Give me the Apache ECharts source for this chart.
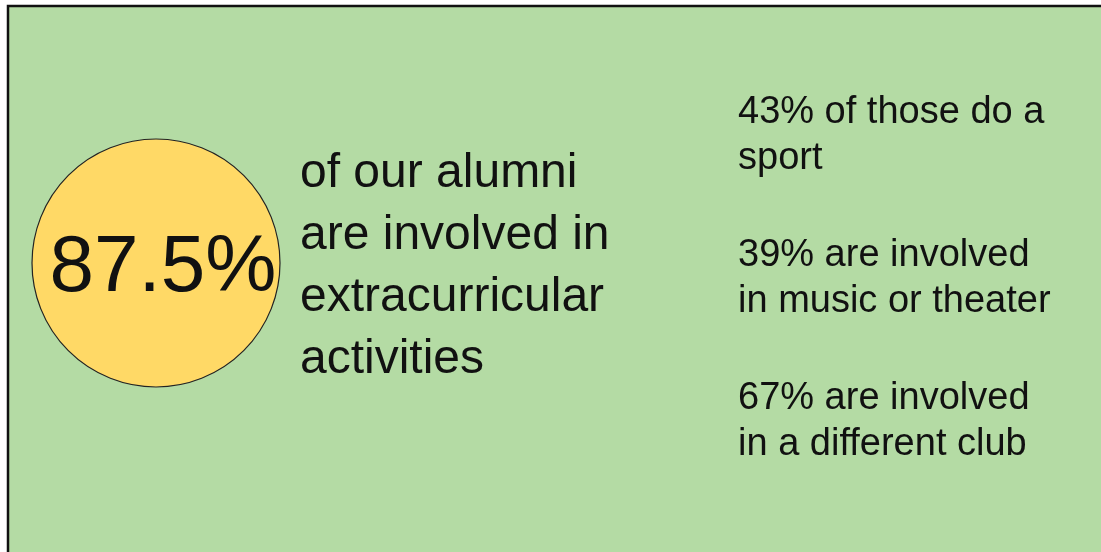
<!DOCTYPE html>
<html>
<head>
<meta charset="utf-8">
<script src="https://cdn.jsdelivr.net/npm/echarts@6/dist/echarts.min.js"></script>
<style>
  html, body { margin: 0; padding: 0; background: #fff; }
  #chart { width: 1101px; height: 552px; }
</style>
</head>
<body>
<div id="chart"></div>
<script>
// headline figure
const mainValue = [87.5];
const mainLabel = ["87.5%"];
// text next to the circle
const mainLines = ["of our alumni", "are involved in", "extracurricular", "activities"];
// the three breakdown notes on the right
const noteLines = [
  ["43% of those do a", "sport"],
  ["39% are involved", "in music or theater"],
  ["67% are involved", "in a different club"]
];

const FONT = "Liberation Sans, Arial, sans-serif";
const INK = "#111";

let chartDom = document.getElementById("chart");
let chart = echarts.init(chartDom);

// text -> graphic elements (baseline based, "middle" align shifted by ~0.31em)
function textEl(str, x, baseline, size, align) {
  return {
    type: "text",
    silent: true,
    z: 10,
    style: {
      text: str,
      x: x,
      y: baseline - size * 0.31,
      font: size + "px " + FONT,
      fill: INK,
      align: align || "left",
      verticalAlign: "middle"
    }
  };
}

let graphics = [
  {
    type: "rect",
    silent: true,
    z: -10,
    shape: { x: 8, y: 6, width: 1110, height: 570 },
    style: { fill: "#b4dba4", stroke: "#111", lineWidth: 2.5 }
  }
];

// big number inside the circle
graphics.push(textEl(mainLabel[0], 163, 294, 80, "center"));

mainLines.forEach(function (s, i) {
  graphics.push(textEl(s, 300, 189 + i * 62, 48));
});
noteLines.forEach(function (block, b) {
  block.forEach(function (s, i) {
    graphics.push(textEl(s, 738, 124 + b * 143 + i * 46, 38));
  });
});

const options = {
  animation: false,
  backgroundColor: "#fff",
  graphic: graphics,
  series: [
    {
      type: "pie",
      center: [156, 263],
      radius: [0, 124],
      silent: true,
      z: 5,
      startAngle: 90,
      itemStyle: {
        color: "#ffd966",
        borderColor: "#222",
        borderWidth: 1.2
      },
      label: { show: false },
      labelLine: { show: false },
      data: mainValue.map(function (v) { return { value: v, name: mainLabel[0] }; })
    }
  ]
};

chart.setOption(options);
</script>
</body>
</html>
